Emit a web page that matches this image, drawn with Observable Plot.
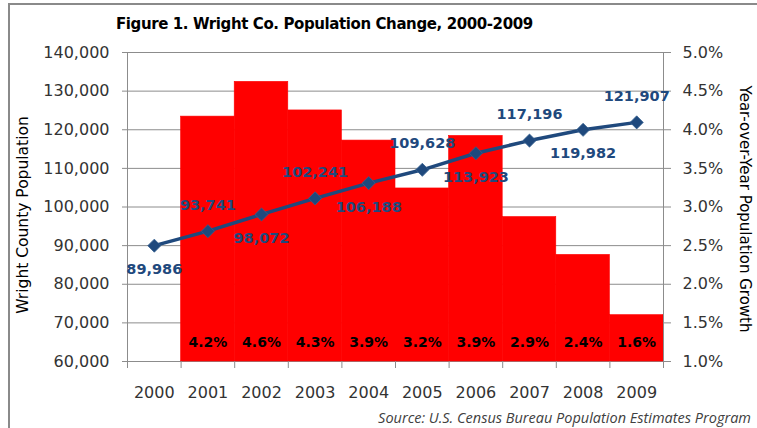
<!DOCTYPE html>
<html><head><meta charset="utf-8">
<script src="https://cdn.jsdelivr.net/npm/d3@7"></script>
<script src="https://cdn.jsdelivr.net/npm/@observablehq/plot@0.6"></script>
<style>
html,body{margin:0;padding:0;background:#fff;overflow:hidden;}
#wrap{position:relative;width:757px;height:428px;overflow:hidden;}
#border{position:absolute;left:8px;top:3px;width:900px;height:600px;border-left:2px solid #8a8a8a;border-top:2px solid #8a8a8a;pointer-events:none;}
#title{height:42px;box-sizing:border-box;padding-left:116px;padding-top:15px;font:bold 15px "DejaVu Sans";letter-spacing:-0.4px;line-height:18px;color:#000;white-space:nowrap;}
#chart svg{display:block;}
#source{height:20px;line-height:20px;text-align:right;padding-right:6px;font:italic 14.5px "Open Sans";color:#404040;white-space:nowrap;}
</style></head>
<body>
<div id="wrap">
<div id="border"></div>
<div id="title">Figure 1. Wright Co. Population Change, 2000-2009</div>
<div id="chart"></div>
<div id="source">Source: U.S. Census Bureau Population Estimates Program</div>
</div>
<script>
const years = [2000, 2001, 2002, 2003, 2004, 2005, 2006, 2007, 2008, 2009];
const population = [89986, 93741, 98072, 102241, 106188, 109628, 113923, 117196, 119982, 121907];
const growthYears = [2001, 2002, 2003, 2004, 2005, 2006, 2007, 2008, 2009];
const growthPct = [4.17, 4.62, 4.25, 3.86, 3.24, 3.92, 2.87, 2.38, 1.60];
const growthLabels = ["4.2%", "4.6%", "4.3%", "3.9%", "3.2%", "3.9%", "2.9%", "2.4%", "1.6%"];
const popTicks = [60000, 70000, 80000, 90000, 100000, 110000, 120000, 130000, 140000];
const pctTickLabels = ["1.0%", "1.5%", "2.0%", "2.5%", "3.0%", "3.5%", "4.0%", "4.5%", "5.0%"];

// right axis (growth %) mapped onto left axis (population): 1.0% -> 60,000, 5.0% -> 140,000
const toPop = g => 60000 + (g - 1) * 20000;
const popData = years.map((year, i) => ({year, pop: population[i]}));
const barData = growthYears.map((year, i) => ({year, g: growthPct[i], label: growthLabels[i]}));
const yearEdges = [...years.map(y => y - 0.5), years[years.length - 1] + 0.5];
const fmt = d3.format(",");
const blue = "#1F497D";
const grid = "#8c8c8c";

const chart = Plot.plot({
  width: 757, height: 366,
  marginLeft: 127, marginRight: 94, marginTop: 10, marginBottom: 47,
  style: {fontFamily: "DejaVu Sans", fontSize: "16px", color: "#333", background: "transparent", overflow: "visible"},
  x: {domain: [1999.5, 2009.5], axis: null},
  y: {domain: [60000, 140000], axis: null},
  marks: [
    Plot.gridY(popTicks, {stroke: grid, strokeOpacity: 1}),
    Plot.rect(barData, {x1: d => d.year - 0.5, x2: d => d.year + 0.5, y1: () => 60000, y2: d => toPop(d.g), fill: "#ff0000", stroke: "#ff0000", strokeWidth: 0.6}),
    Plot.ruleX([1999.5, 2009.5], {stroke: grid}),
    Plot.axisY(popTicks, {anchor: "left", tickSize: 5, tickPadding: 13, tickFormat: fmt, stroke: grid, fill: "#333", label: null}),
    Plot.axisY(popTicks, {anchor: "right", tickSize: 7, tickPadding: 12, tickFormat: d => pctTickLabels[popTicks.indexOf(d)], stroke: grid, fill: "#333", label: null}),
    Plot.axisX(yearEdges, {anchor: "bottom", tickSize: 7, tickFormat: () => "", stroke: grid, label: null}),
    Plot.axisX(years, {anchor: "bottom", tickSize: 0, tickPadding: 25, tickFormat: d => String(d), fill: "#333", label: null}),
    Plot.text(barData, {x: "year", y: () => 65000, text: "label", fill: "#000", fontWeight: "bold", fontSize: 14}),
    Plot.line(popData, {x: "year", y: "pop", stroke: blue, strokeWidth: 3.5}),
    Plot.dot(popData, {x: "year", y: "pop", symbol: "diamond2", r: 5.9, fill: blue, stroke: "#35608f", strokeWidth: 0.8}),
    Plot.text(popData, {filter: (d, i) => i % 2 === 0, x: "year", y: "pop", text: d => fmt(d.pop), dy: 24, fill: blue, fontWeight: "bold", fontSize: 14.5}),
    Plot.text(popData, {filter: (d, i) => i % 2 === 1, x: "year", y: "pop", text: d => fmt(d.pop), dy: -26, fill: blue, fontWeight: "bold", fontSize: 14.5}),
    Plot.text(["Wright County Population"], {text: d => d, frameAnchor: "left", textAnchor: "middle", rotate: -90, dx: -104, dy: 8, fill: "#000", fontSize: 15.5}),
    Plot.text(["Year-over-Year Population Growth"], {text: d => d, frameAnchor: "right", textAnchor: "middle", rotate: 90, dx: 81, dy: 2, fill: "#000", fontSize: 15})
  ]
});
document.getElementById("chart").append(chart);
</script>
</body></html>
